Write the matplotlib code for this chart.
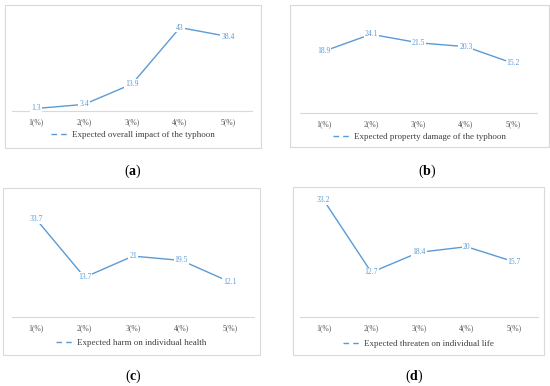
import matplotlib.pyplot as plt
from matplotlib.patches import Rectangle

plt.rcParams['font.family'] = ['Liberation Serif', 'DejaVu Serif']
plt.rcParams['mathtext.fontset'] = 'custom'
plt.rcParams['mathtext.rm'] = 'Liberation Serif'
plt.rcParams['mathtext.bf'] = 'Liberation Serif:bold'

categories = ['1(%)', '2(%)', '3(%)', '4(%)', '5(%)']
overall = [1.3, 3.4, 13.9, 43, 38.4]
property_damage = [18.9, 24.1, 21.5, 20.3, 15.2]
health = [33.7, 13.7, 21, 19.5, 12.1]
life = [33.2, 12.7, 18.4, 20, 15.7]

labels = ['Expected overall impact of the typhoon',
          'Expected property damage of the typhoon',
          'Expected harm on individual health',
          'Expected threaten on individual life']
series = [overall, property_damage, health, life]
ymax = [50, 30, 40, 35]
panel_names = ['a', 'b', 'c', 'd']

W, H = 550, 386
blue = '#5B9BD5'

# pixel layouts: box (x0,y0,x1,y1), plot (x0,ytop,x1,ybottom), legend y, panel label pos
boxes = [(5, 5, 261, 148), (290, 5, 549, 147), (3, 188, 260, 355), (293, 187, 544, 355)]
plots = [(12, 14, 252, 111), (300, 15, 537, 113), (12, 201, 254, 317), (300, 194, 538, 317)]
legend_y = [135, 137, 343, 344]
panel_pos = [(133, 171), (427, 171), (133, 376), (414, 376)]

fig = plt.figure(figsize=(5.5, 3.86), dpi=100)

def fx(x):
    return x / W

def fy(y):
    return 1 - y / H

for i in range(4):
    bx0, by0, bx1, by1 = boxes[i]
    fig.patches.append(Rectangle((fx(bx0), fy(by1)), fx(bx1 - bx0), (by1 - by0) / H,
                                 transform=fig.transFigure, facecolor='white',
                                 edgecolor='#D9D9D9', linewidth=0.8, zorder=-5))
    px0, pt, px1, pb = plots[i]
    ax = fig.add_axes([fx(px0), fy(pb), fx(px1 - px0), (pb - pt) / H])
    ax.set_zorder(2)
    x = range(1, 6)
    ax.plot(x, series[i], color=blue, linewidth=1.0, label=labels[i])
    for xi, v in zip(x, series[i]):
        ax.text(xi, v, '%g' % v, color=blue, fontsize=5.5, ha='center', va='center',
                bbox=dict(facecolor='white', edgecolor='none', pad=0.6))
    ax.set_xlim(0.5, 5.5)
    ax.set_ylim(0, ymax[i])
    ax.set_xticks(list(x))
    ax.set_xticklabels(categories, fontsize=5.5, color='#595959')
    ax.tick_params(axis='x', length=0, pad=5)
    ax.set_yticks([])
    for s in ['top', 'left', 'right']:
        ax.spines[s].set_visible(False)
    ax.spines['bottom'].set_color('#D9D9D9')
    ax.spines['bottom'].set_linewidth(0.8)
    ax.patch.set_alpha(0)

    # legend with dashed handle
    handle, = ax.plot([], [], color=blue, linewidth=1.0, linestyle=(0, (4, 3)))
    leg = fig.legend([handle], [labels[i]], loc='center',
                     bbox_to_anchor=(fx((bx0 + bx1) / 2), fy(legend_y[i])),
                     frameon=False, fontsize=6.5, handlelength=2.0, handletextpad=0.3,
                     labelcolor='#404040')

    lx, ly = panel_pos[i]
    fig.text(fx(lx), fy(ly), r'($\mathbf{%s}$)' % panel_names[i], fontsize=10,
             ha='center', va='center', color='black')

fig.savefig('out.png', dpi=100)
